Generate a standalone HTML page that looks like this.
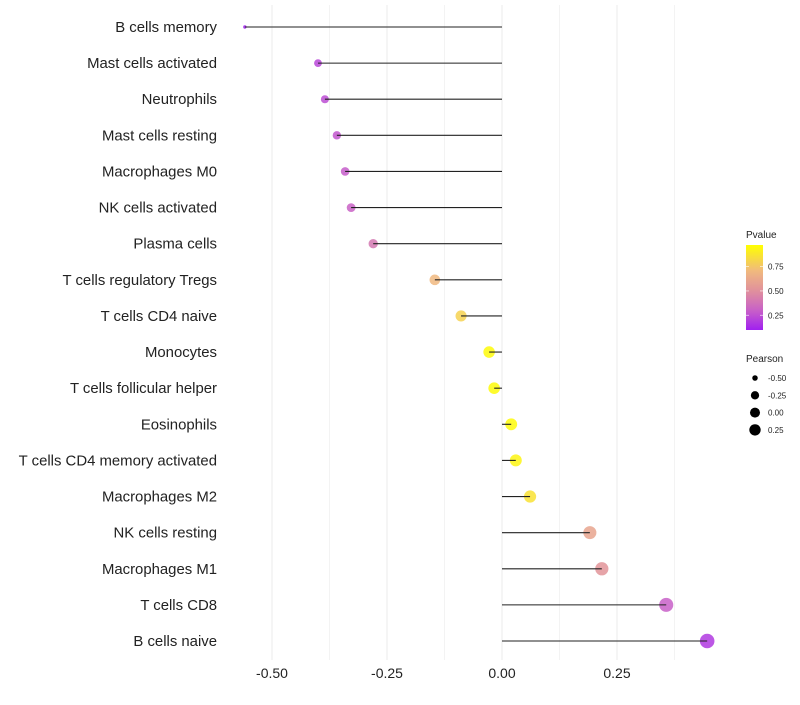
<!DOCTYPE html>
<html><head><meta charset="utf-8"><style>
body{margin:0;background:#fff;font-family:"Liberation Sans",sans-serif}
svg text{font-family:"Liberation Sans",sans-serif}
</style></head><body>
<svg id="c" width="800" height="700"></svg>
<script>
const categories=["B cells memory","Mast cells activated","Neutrophils","Mast cells resting","Macrophages M0","NK cells activated","Plasma cells","T cells regulatory  Tregs ","T cells CD4 naive","Monocytes","T cells follicular helper","Eosinophils","T cells CD4 memory activated","Macrophages M2","NK cells resting","Macrophages M1","T cells CD8","B cells naive"];
const pearson=[-0.559,-0.40,-0.385,-0.359,-0.341,-0.328,-0.280,-0.146,-0.089,-0.028,-0.017,0.020,0.030,0.061,0.191,0.217,0.357,0.446];
const pvalue=[0.10,0.22,0.24,0.27,0.29,0.31,0.40,0.70,0.80,0.95,0.95,0.95,0.93,0.86,0.60,0.52,0.30,0.18];
const xTicks=[-0.5,-0.25,0,0.25];
const xTickLabels=["-0.50","-0.25","0.00","0.25"];
const legendP=[0.25,0.5,0.75];
const legendPearson=[-0.5,-0.25,0,0.25];

const svg=document.getElementById('c');const NS="http://www.w3.org/2000/svg";
function mk(t,a,p){const e=document.createElementNS(NS,t);for(const k in a)e.setAttribute(k,a[k]);(p||svg).appendChild(e);return e;}
const x=v=>502+v*460;
const y=i=>27+i*(641-27)/(categories.length-1);
const pmin=0.1,pmax=0.97;
const stopsP=[0.1,0.3,0.5,0.7,0.97];
const stopsC=[[160,32,240],[200,96,200],[224,144,156],[240,184,128],[255,255,0]];
function col(p){p=Math.max(pmin,Math.min(pmax,p));let k=0;while(k<stopsP.length-2&&p>stopsP[k+1])k++;
 const u=(p-stopsP[k])/(stopsP[k+1]-stopsP[k]);const c=stopsC[k].map((v,j)=>v+(stopsC[k+1][j]-v)*u);
 return `rgb(${c.map(Math.round).join(',')})`;}
const smin=-0.559,smax=0.446;
const rad=v=>1.7+5.6*Math.sqrt(Math.max(0,(v-smin)/(smax-smin)));
for(let g=-0.5;g<=0.375+1e-9;g+=0.125){const l=mk('line',{x1:x(g),x2:x(g),y1:5,y2:660,stroke:'#ebebeb','stroke-width':Math.abs(g/0.25-Math.round(g/0.25))<1e-6?1:0.6});
}
xTicks.forEach((v,i)=>{const t=mk('text',{x:x(v),y:678,'font-size':14,'text-anchor':'middle',fill:'#222'});t.textContent=xTickLabels[i];
});
categories.forEach((c,i)=>{
 const t=mk('text',{x:217,y:y(i)+5,'font-size':14.9,'text-anchor':'end',fill:'#222'});t.textContent=c;
 
 const d=mk('circle',{cx:x(pearson[i]),cy:y(i),r:rad(pearson[i]),fill:col(pvalue[i]),'fill-opacity':0.85});
 
 const l=mk('line',{x1:x(0),x2:x(pearson[i]),y1:y(i),y2:y(i),stroke:'#222','stroke-width':1.1});
 
});
let t=mk('text',{x:746,y:238,'font-size':10,fill:'#222'});t.textContent='Pvalue';

const defs=mk('defs',{});const lg=mk('linearGradient',{id:'g',x1:0,y1:1,x2:0,y2:0},defs);
for(let s=0;s<=20;s++){mk('stop',{offset:s/20,'stop-color':col(pmin+(pmax-pmin)*s/20)},lg);}
const bar=mk('rect',{x:746,y:245,width:17,height:85,fill:'url(#g)'});

const py=p=>330-(p-pmin)/(pmax-pmin)*85;
legendP.forEach(p=>{mk('line',{x1:746,x2:749,y1:py(p),y2:py(p),stroke:'#fff','stroke-opacity':0.6});mk('line',{x1:760,x2:763,y1:py(p),y2:py(p),stroke:'#fff','stroke-opacity':0.6});
 const tt=mk('text',{x:768,y:py(p)+3,'font-size':8,fill:'#222'});tt.textContent=p.toFixed(2);
 });
t=mk('text',{x:746,y:362,'font-size':10,fill:'#222'});t.textContent='Pearson';

legendPearson.forEach((v,i)=>{const cy=378+i*17.3;
 const c=mk('circle',{cx:755,cy:cy,r:rad(v)*0.8+0.3,fill:'#000'});
 
 const tt=mk('text',{x:768,y:cy+3,'font-size':8,fill:'#222'});tt.textContent=v.toFixed(2);
 });
</script>
</body></html>
